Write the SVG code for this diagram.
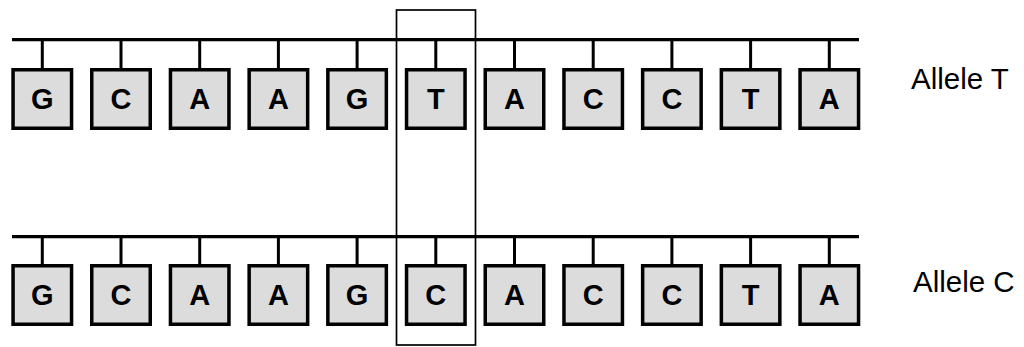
<svg xmlns="http://www.w3.org/2000/svg" width="1024" height="347" viewBox="0 0 1024 347">
<style>
.bb{fill:#dcdcdc;stroke:#000;stroke-width:3.5}
.bl{font-family:"Liberation Sans",Arial,sans-serif;font-weight:bold;font-size:29px;text-anchor:middle}
.lab{font-family:"Liberation Sans",Arial,sans-serif;font-size:29.5px}
.bk{stroke:#000;stroke-width:3.3;fill:none}
.tk{stroke:#000;stroke-width:3;fill:none}
</style>
<rect width="1024" height="347" fill="#fff"/>
<g id="connectors">
<line class="bk" x1="12" y1="39.7" x2="859" y2="39.7"/>
<line class="bk" x1="12" y1="236.7" x2="859" y2="236.7"/>
<path class="tk" d="M42.3 40V68 M121 40V68 M199.7 40V68 M278.4 40V68 M357.1 40V68 M435.8 40V68 M514.5 40V68 M593.2 40V68 M671.9 40V68 M750.6 40V68 M829.3 40V68"/>
<path class="tk" d="M42.3 237V264 M121 237V264 M199.7 237V264 M278.4 237V264 M357.1 237V264 M435.8 237V264 M514.5 237V264 M593.2 237V264 M671.9 237V264 M750.6 237V264 M829.3 237V264"/>
</g>
<g id="top-strand">
<g id="t1"><rect class="bb" x="13.05" y="69.75" width="58.5" height="58.5"/><text class="bl" x="42.3" y="109">G</text></g>
<g id="t2"><rect class="bb" x="91.75" y="69.75" width="58.5" height="58.5"/><text class="bl" x="121" y="109">C</text></g>
<g id="t3"><rect class="bb" x="170.45" y="69.75" width="58.5" height="58.5"/><text class="bl" x="199.7" y="109">A</text></g>
<g id="t4"><rect class="bb" x="249.15" y="69.75" width="58.5" height="58.5"/><text class="bl" x="278.4" y="109">A</text></g>
<g id="t5"><rect class="bb" x="327.85" y="69.75" width="58.5" height="58.5"/><text class="bl" x="357.1" y="109">G</text></g>
<g id="t6"><rect class="bb" x="406.55" y="69.75" width="58.5" height="58.5"/><text class="bl" x="435.8" y="109">T</text></g>
<g id="t7"><rect class="bb" x="485.25" y="69.75" width="58.5" height="58.5"/><text class="bl" x="514.5" y="109">A</text></g>
<g id="t8"><rect class="bb" x="563.95" y="69.75" width="58.5" height="58.5"/><text class="bl" x="593.2" y="109">C</text></g>
<g id="t9"><rect class="bb" x="642.65" y="69.75" width="58.5" height="58.5"/><text class="bl" x="671.9" y="109">C</text></g>
<g id="t10"><rect class="bb" x="721.35" y="69.75" width="58.5" height="58.5"/><text class="bl" x="750.6" y="109">T</text></g>
<g id="t11"><rect class="bb" x="800.05" y="69.75" width="58.5" height="58.5"/><text class="bl" x="829.3" y="109">A</text></g>
</g>
<g id="bottom-strand">
<g id="b1"><rect class="bb" x="13.05" y="265.75" width="58.5" height="58.5"/><text class="bl" x="42.3" y="305">G</text></g>
<g id="b2"><rect class="bb" x="91.75" y="265.75" width="58.5" height="58.5"/><text class="bl" x="121" y="305">C</text></g>
<g id="b3"><rect class="bb" x="170.45" y="265.75" width="58.5" height="58.5"/><text class="bl" x="199.7" y="305">A</text></g>
<g id="b4"><rect class="bb" x="249.15" y="265.75" width="58.5" height="58.5"/><text class="bl" x="278.4" y="305">A</text></g>
<g id="b5"><rect class="bb" x="327.85" y="265.75" width="58.5" height="58.5"/><text class="bl" x="357.1" y="305">G</text></g>
<g id="b6"><rect class="bb" x="406.55" y="265.75" width="58.5" height="58.5"/><text class="bl" x="435.8" y="305">C</text></g>
<g id="b7"><rect class="bb" x="485.25" y="265.75" width="58.5" height="58.5"/><text class="bl" x="514.5" y="305">A</text></g>
<g id="b8"><rect class="bb" x="563.95" y="265.75" width="58.5" height="58.5"/><text class="bl" x="593.2" y="305">C</text></g>
<g id="b9"><rect class="bb" x="642.65" y="265.75" width="58.5" height="58.5"/><text class="bl" x="671.9" y="305">C</text></g>
<g id="b10"><rect class="bb" x="721.35" y="265.75" width="58.5" height="58.5"/><text class="bl" x="750.6" y="305">T</text></g>
<g id="b11"><rect class="bb" x="800.05" y="265.75" width="58.5" height="58.5"/><text class="bl" x="829.3" y="305">A</text></g>
</g>
<g id="highlight"><rect x="396.5" y="10" width="79" height="335" fill="none" stroke="#000" stroke-width="1.7"/></g>
<g id="labels">
<text class="lab" x="911" y="89">Allele T</text>
<text class="lab" x="913" y="292">Allele C</text>
</g>
</svg>
